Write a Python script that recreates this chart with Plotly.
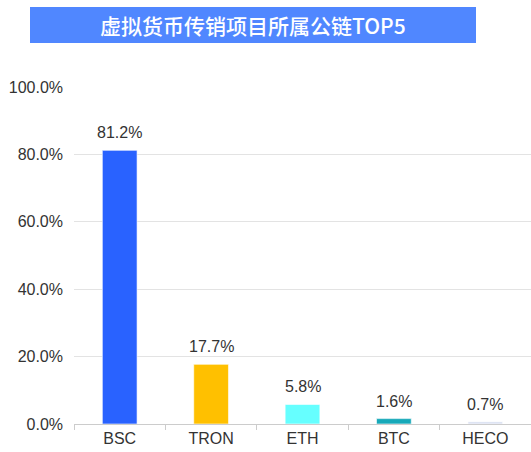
import plotly.graph_objects as go

categories = ["BSC", "TRON", "ETH", "BTC", "HECO"]
values = [81.2, 17.7, 5.8, 1.6, 0.7]
value_labels = ["81.2%", "17.7%", "5.8%", "1.6%", "0.7%"]
bar_colors = ["#2962FF", "#FFC000", "#66FFFF", "#17A9B9", "#DCE2F2"]
y_ticks = [0, 20, 40, 60, 80, 100]
y_tick_labels = ["0.0%", "20.0%", "40.0%", "60.0%", "80.0%", "100.0%"]
title_text = "虚拟货币传销项目所属公链TOP5"

W, H = 531, 452
L, R, T, B = 74, 0, 87, 28
pw, ph = W - L - R, H - T - B

fig = go.Figure()
fig.add_trace(go.Bar(
    x=categories, y=values,
    marker=dict(color=bar_colors, line=dict(color="rgba(255,255,255,0.6)", width=1)),
    width=0.38, hoverinfo="skip", showlegend=False,
))

for c, v, t in zip(categories, values, value_labels):
    fig.add_annotation(x=c, y=v, text=t, showarrow=False, yanchor="bottom", yshift=7,
                       font=dict(size=16, color="#333333", family="Liberation Sans, Arial"))

def px_x(p):
    return (p - L) / pw

def px_y(p):
    return (H - B - p) / ph

fig.add_shape(type="rect", xref="paper", yref="paper",
              x0=px_x(30), x1=px_x(476), y0=px_y(43), y1=px_y(7),
              fillcolor="#5087FF", line=dict(width=0), layer="above")
fig.add_annotation(xref="paper", yref="paper", x=px_x(253), y=px_y(25), text=title_text,
                   showarrow=False, xanchor="center", yanchor="middle",
                   font=dict(size=21, color="white", family="Noto Sans CJK SC", weight=500))

fig.update_layout(
    width=W, height=H,
    margin=dict(l=L, r=R, t=T, b=B),
    paper_bgcolor="white", plot_bgcolor="white",
    font=dict(family="Liberation Sans, Arial", size=16, color="#333333"),
    xaxis=dict(showline=True, linecolor="#CCCCCC", linewidth=1, ticks="outside",
               tickson="boundaries", ticklen=5, tickcolor="#CCCCCC", showgrid=False,
               tickfont=dict(size=16, color="#333333")),
    yaxis=dict(range=[0, 100], tickvals=y_ticks, ticktext=y_tick_labels,
               showgrid=True, gridcolor="#E3E3E3", gridwidth=1, zeroline=False,
               showline=False, ticks="", ticklabelstandoff=10,
               tickfont=dict(size=16, color="#333333")),
)

fig.write_html("out.html", config={"displayModeBar": False},
               post_script="document.body.style.margin='0';document.body.style.overflow='hidden';")
